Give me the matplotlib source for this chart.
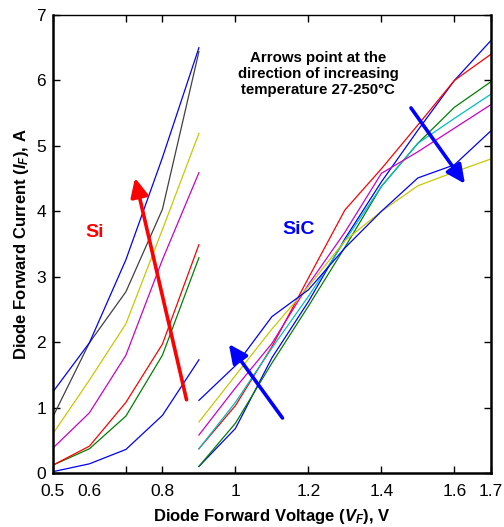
import matplotlib
matplotlib.use("Agg")
import matplotlib.pyplot as plt

plt.rcParams['font.family'] = ['Liberation Sans', 'DejaVu Sans']
plt.rcParams['mathtext.fontset'] = 'custom'
plt.rcParams['mathtext.it'] = 'Liberation Sans:bold:italic'
plt.rcParams['mathtext.rm'] = 'Liberation Sans:bold'
plt.rcParams['mathtext.bf'] = 'Liberation Sans:bold'

# ---- data ----
si_v = [0.5, 0.6, 0.7, 0.8, 0.9]
si_curves = [
    ("#0000FF", [0.02, 0.14, 0.36, 0.88, 1.73]),
    ("#008000", [0.12, 0.37, 0.87, 1.80, 3.29]),
    ("#FF0000", [0.12, 0.41, 1.08, 1.97, 3.49]),
    ("#CC00CC", [0.38, 0.92, 1.80, 3.26, 4.59]),
    ("#C8C800", [0.60, 1.42, 2.28, 3.72, 5.19]),
    ("#404040", [0.86, 1.99, 2.77, 4.03, 6.44]),
    ("#0000FF", [1.24, 1.99, 3.26, 4.82, 6.50]),
]
sic_v = [0.9, 1.0, 1.1, 1.2, 1.3, 1.4, 1.5, 1.6, 1.7]
sic_curves = [
    ("#0000FF", [0.10, 0.68, 1.76, 2.62, 3.58, 4.45, 5.24, 6.00, 6.61]),
    ("#008000", [0.10, 0.76, 1.68, 2.55, 3.45, 4.38, 5.04, 5.59, 5.98]),
    ("#FF0000", [0.37, 1.03, 1.93, 2.98, 4.02, 4.65, 5.32, 6.00, 6.40]),
    ("#00C0C0", [0.37, 1.08, 1.91, 2.70, 3.55, 4.38, 5.04, 5.42, 5.79]),
    ("#CC00CC", [0.58, 1.30, 1.98, 2.88, 3.68, 4.58, 4.91, 5.27, 5.63]),
    ("#C8C800", [0.78, 1.49, 2.20, 2.85, 3.55, 4.00, 4.39, 4.60, 4.80]),
    ("#0000FF", [1.11, 1.64, 2.39, 2.80, 3.44, 4.00, 4.51, 4.71, 5.23]),
]
x_ticks = [0.5, 0.7, 0.8, 1.0, 1.2, 1.4, 1.6, 1.7]
x_tick_labels = ['0.5', '', '0.8', '1', '1.2', '1.4', '1.6', '1.7']
y_ticks = [0, 1, 2, 3, 4, 5, 6, 7]

# arrows (tail, tip) in data coordinates
arrows = [
    ("#FF0000", (0.866, 1.12), (0.725, 4.51)),
    ("#0000FF", (1.129, 0.84), (0.982, 1.97)),
    ("#0000FF", (1.481, 5.58), (1.629, 4.42)),
]

fig = plt.figure(figsize=(5.04, 5.27), dpi=100)
ax = fig.add_axes([0.105, 0.1025, 0.869, 0.869])

for c, vals in si_curves:
    ax.plot(si_v, vals, color=c, lw=0.9)
for c, vals in sic_curves:
    ax.plot(sic_v, vals, color=c, lw=0.9)

for c, tail, tip in arrows:
    ax.annotate('', xy=tip, xytext=tail,
                arrowprops=dict(arrowstyle='-|>,head_length=0.8,head_width=0.38',
                                mutation_scale=14, lw=2.6, color=c,
                                shrinkA=0, shrinkB=0))

ax.text(0.615, 3.67, 'Si', color='#FF0000', fontsize=14, fontweight='bold',
        ha='center', va='center')
ax.text(1.172, 3.72, 'SiC', color='#0000FF', fontsize=14, fontweight='bold',
        ha='center', va='center')
ax.text(1.226, 6.10, 'Arrows point at the\ndirection of increasing\ntemperature 27-250\u00b0C',
        fontsize=10.8, fontweight='bold', ha='center', va='center', linespacing=1.2)

ax.set_xlim(0.5, 1.7)
ax.set_ylim(0, 7)
ax.set_xticks(x_ticks)
ax.set_xticklabels(x_tick_labels)
ax.set_xticks([0.6], minor=True)
ax.set_xticklabels(['0.6'], minor=True)
ax.set_yticks(y_ticks)

ax.tick_params(axis='x', which='major', direction='in', length=5, width=1,
               top=True, labelsize=12.5, pad=8)
ax.tick_params(axis='x', which='minor', length=0, labelsize=12.5, pad=8)
ax.tick_params(axis='y', which='major', direction='in', length=5, width=1,
               right=True, labelsize=12.5, pad=5)

for s in ['left', 'bottom', 'right']:
    ax.spines[s].set_linewidth(1.8)
ax.spines['top'].set_linewidth(1.0)

ax.set_xlabel(r'Diode Forward Voltage ($V_F$), V', fontsize=12, fontweight='bold', labelpad=6)
ax.set_ylabel(r'Diode Forward Current ($I_F$), A', fontsize=12, fontweight='bold', labelpad=4)

fig.savefig('out.png', dpi=100)
